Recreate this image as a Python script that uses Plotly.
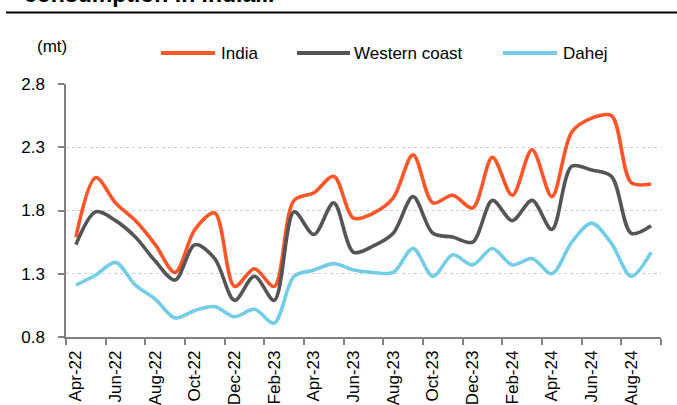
import plotly.graph_objects as go

# Monthly gas consumption (mt)
months = [
    "Apr-22", "May-22", "Jun-22", "Jul-22", "Aug-22", "Sep-22", "Oct-22", "Nov-22",
    "Dec-22", "Jan-23", "Feb-23", "Mar-23", "Apr-23", "May-23", "Jun-23", "Jul-23",
    "Aug-23", "Sep-23", "Oct-23", "Nov-23", "Dec-23", "Jan-24", "Feb-24", "Mar-24",
    "Apr-24", "May-24", "Jun-24", "Jul-24", "Aug-24", "Sep-24",
]
india = [1.59, 2.06, 1.86, 1.72, 1.53, 1.31, 1.65, 1.78, 1.20, 1.34, 1.20, 1.88,
         1.94, 2.07, 1.74, 1.78, 1.90, 2.24, 1.86, 1.92, 1.82, 2.22, 1.92, 2.28,
         1.91, 2.42, 2.53, 2.55, 2.02, 2.01]
western_coast = [1.53, 1.79, 1.72, 1.59, 1.40, 1.25, 1.53, 1.42, 1.09, 1.28, 1.09, 1.79,
                 1.61, 1.86, 1.47, 1.52, 1.62, 1.91, 1.62, 1.59, 1.55, 1.88, 1.72, 1.88,
                 1.65, 2.15, 2.12, 2.07, 1.62, 1.68]
dahej = [1.21, 1.29, 1.39, 1.21, 1.10, 0.95, 1.01, 1.04, 0.96, 1.02, 0.91, 1.28,
         1.33, 1.38, 1.33, 1.31, 1.31, 1.50, 1.28, 1.45, 1.37, 1.50, 1.37, 1.42,
         1.30, 1.55, 1.70, 1.54, 1.28, 1.47]
y_ticks = [0.8, 1.3, 1.8, 2.3, 2.8]

series = [
    ("India", india, "#FF5528"),
    ("Western coast", western_coast, "#555555"),
    ("Dahej", dahej, "#74CDE6"),
]

FONT = "Liberation Sans, Arial, sans-serif"
W, H = 677, 405
ML, MR, MT, MB = 66, 16, 84, 68
PW, PH = W - ML - MR, H - MT - MB


def px_x(px):
    return (px - ML) / PW


def px_y(py):
    return 1 + (MT - py) / PH


fig = go.Figure()
for name, vals, color in series:
    fig.add_trace(go.Scatter(
        x=months, y=vals, name=name, mode="lines",
        line=dict(color=color, width=3.6, shape="spline", smoothing=0.9),
        showlegend=False,
    ))

# legend drawn as line samples + labels
legend_items = [(161, 215, 219), (297, 350, 352), (503, 557, 561)]
shapes = []
annotations = []
for (name, _, color), (x0, x1, xt) in zip(series, legend_items):
    shapes.append(dict(type="line", xref="paper", yref="paper",
                       x0=px_x(x0), x1=px_x(x1), y0=px_y(53), y1=px_y(53),
                       line=dict(color=color, width=4)))
    annotations.append(dict(text=name, xref="paper", yref="paper",
                            x=px_x(xt), y=px_y(53), xanchor="left", yanchor="middle",
                            showarrow=False, font=dict(family=FONT, size=17, color="#000")))

# unit label
annotations.append(dict(text="(mt)", xref="paper", yref="paper",
                        x=px_x(35), y=px_y(47), xanchor="left", yanchor="middle",
                        showarrow=False, font=dict(family=FONT, size=17, color="#000")))

# heading and rule
annotations.append(dict(text="<b>consumption in India...</b>", xref="paper", yref="paper",
                        x=px_x(22), y=px_y(9), xanchor="left", yanchor="bottom",
                        showarrow=False, font=dict(family=FONT, size=23, color="#000")))
shapes.append(dict(type="line", xref="paper", yref="paper",
                   x0=px_x(6), x1=px_x(677), y0=px_y(12.5), y1=px_y(12.5),
                   line=dict(color="#000", width=2)))

fig.update_layout(
    width=W, height=H,
    margin=dict(l=ML, r=MR, t=MT, b=MB, pad=0, autoexpand=False),
    plot_bgcolor="white", paper_bgcolor="white",
    font=dict(family=FONT, size=17, color="#000"),
    shapes=shapes, annotations=annotations,
    xaxis=dict(
        type="category", range=[-0.5, len(months) - 0.5], automargin=False,
        tickson="boundaries", dtick=2, tickangle=-90,
        ticks="outside", ticklen=6, tickcolor="#808080", tickwidth=1.5,
        showline=True, linecolor="#808080", linewidth=1.5,
        showgrid=False, ticklabelstandoff=5,
        tickfont=dict(family=FONT, size=17, color="#000"),
    ),
    yaxis=dict(
        range=[0.8, 2.8], tickvals=y_ticks, ticktext=[f"{v:.1f}" for v in y_ticks],
        automargin=False,
        ticks="outside", ticklen=6, tickcolor="#808080", tickwidth=1.5,
        showline=True, linecolor="#808080", linewidth=1.5,
        showgrid=True, gridcolor="#cfcfcf", griddash="dot", gridwidth=1,
        zeroline=False, ticklabelstandoff=10,
        tickfont=dict(family=FONT, size=17, color="#000"),
    ),
)

fig.write_html("out.html")
